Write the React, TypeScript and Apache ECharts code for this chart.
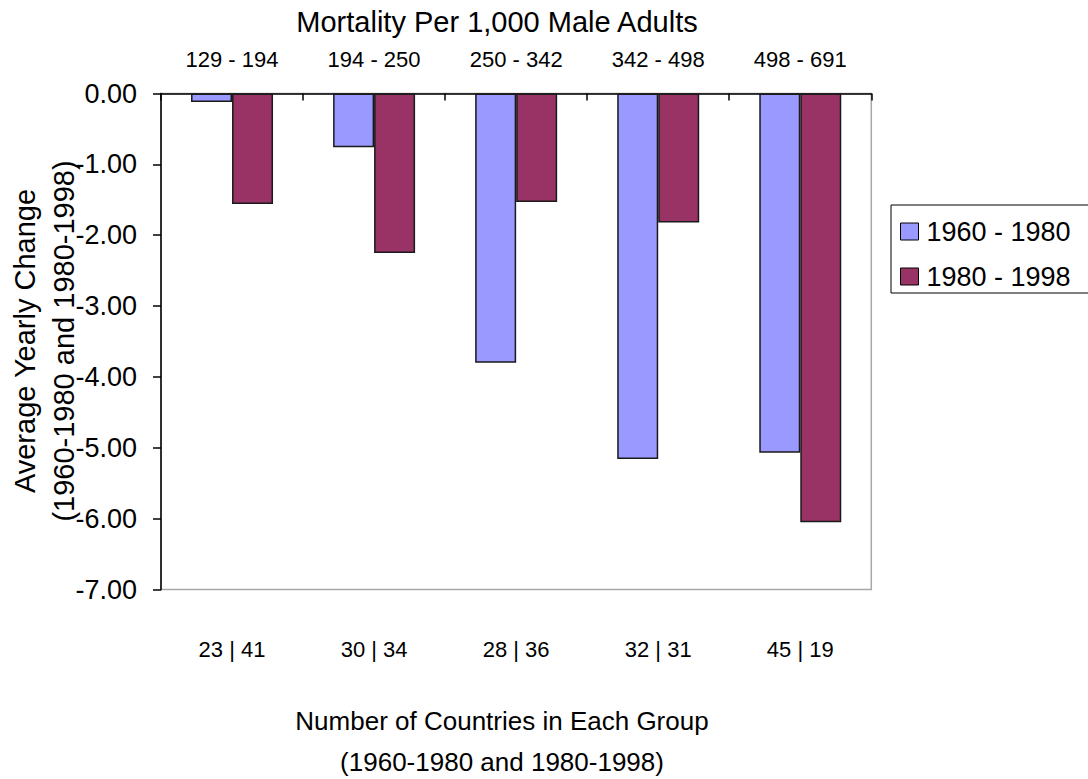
import React, { useEffect, useRef } from "react";
import * as echarts from "echarts";

const mortalityBands = ["129 - 194", "194 - 250", "250 - 342", "342 - 498", "498 - 691"];
const countryCounts = ["23 | 41", "30 | 34", "28 | 36", "32 | 31", "45 | 19"];
const series1960 = [-0.12, -0.76, -3.8, -5.16, -5.07];
const series1980 = [-1.56, -2.25, -1.53, -1.82, -6.05];
const seriesNames = ["1960 - 1980", "1980 - 1998"];
const yTicks = { min: -7, max: 0, interval: 1 };

const FONT = "'Liberation Sans', Arial, Helvetica, sans-serif";

export default function App() {
  const ref = useRef<HTMLDivElement>(null);
  useEffect(() => {
    if (!ref.current) return;
    const chart = echarts.init(ref.current, undefined, { renderer: "svg" });
    chart.setOption({
      animation: false,
      backgroundColor: "#ffffff",
      textStyle: { fontFamily: FONT, color: "#000" },
      grid: {
        left: 161,
        top: 93.5,
        right: 1088 - 871.3,
        bottom: 779 - 589.5,
        show: true,
        borderColor: "#a8a8a8",
        borderWidth: 1.5,
        backgroundColor: "transparent",
      },
      legend: {
        orient: "vertical",
        left: 891,
        top: 205,
        padding: [13, 10, 3, 9],
        itemGap: 18,
        itemWidth: 18,
        itemHeight: 17,
        icon: "rect",
        borderWidth: 0,
        data: seriesNames,
        itemStyle: { borderColor: "#000", borderWidth: 1 },
        textStyle: { fontSize: 27, color: "#000", fontFamily: FONT, padding: [0, 0, 0, 3] },
      },
      xAxis: [
        {
          type: "category",
          position: "top",
          data: mortalityBands,
          axisLine: { show: true, onZero: false, lineStyle: { color: "#000", width: 1.5 } },
          axisTick: { show: true, inside: true, length: 7, lineStyle: { color: "#000", width: 1.5 } },
          axisLabel: { fontSize: 22, color: "#000", margin: 23, fontFamily: FONT },
          splitLine: { show: false },
        },
        {
          type: "category",
          position: "bottom",
          data: countryCounts,
          axisLine: { show: false, onZero: false },
          axisTick: { show: false },
          axisLabel: { fontSize: 22, color: "#000", margin: 49, fontFamily: FONT },
          splitLine: { show: false },
        },
      ],
      yAxis: {
        type: "value",
        min: yTicks.min,
        max: yTicks.max,
        interval: yTicks.interval,
        axisLine: { show: true, onZero: false, lineStyle: { color: "#000", width: 1.5 } },
        axisTick: { show: true, inside: false, length: 8, lineStyle: { color: "#000", width: 1.5 } },
        axisLabel: {
          fontSize: 27,
          color: "#000",
          margin: 24,
          fontFamily: FONT,
          formatter: (v: number) => v.toFixed(2),
        },
        splitLine: { show: false },
      },
      series: [
        {
          name: seriesNames[0],
          type: "bar",
          xAxisIndex: 0,
          data: series1960,
          barWidth: 41,
          barGap: "0%",
          itemStyle: { color: "#9999FF", borderColor: "#1a1a1a", borderWidth: 1.5 },
        },
        {
          name: seriesNames[1],
          type: "bar",
          xAxisIndex: 0,
          data: series1980,
          barWidth: 41,
          barGap: "0%",
          itemStyle: { color: "#993366", borderColor: "#1a1a1a", borderWidth: 1.5 },
        },
      ],
      graphic: [
        {
          type: "rect",
          shape: { x: 891, y: 205, width: 230, height: 88 },
          style: { fill: "none", stroke: "#000", lineWidth: 1 },
          z: 1,
        },
        {
          type: "text",
          x: 497,
          y: 22,
          style: {
            text: "Mortality Per 1,000 Male Adults",
            fontSize: 29,
            fontFamily: FONT,
            fill: "#000",
            align: "center",
            verticalAlign: "middle",
          },
        },
        {
          type: "text",
          x: 25,
          y: 341,
          rotation: Math.PI / 2,
          style: {
            text: "Average Yearly Change",
            fontSize: 29,
            fontFamily: FONT,
            fill: "#000",
            align: "center",
            verticalAlign: "middle",
          },
        },
        {
          type: "text",
          x: 64,
          y: 341,
          rotation: Math.PI / 2,
          style: {
            text: "(1960-1980 and 1980-1998)",
            fontSize: 29,
            fontFamily: FONT,
            fill: "#000",
            align: "center",
            verticalAlign: "middle",
          },
        },
        {
          type: "text",
          x: 502,
          y: 721,
          style: {
            text: "Number of Countries in Each Group",
            fontSize: 26,
            fontFamily: FONT,
            fill: "#000",
            align: "center",
            verticalAlign: "middle",
          },
        },
        {
          type: "text",
          x: 502,
          y: 762,
          style: {
            text: "(1960-1980 and 1980-1998)",
            fontSize: 26,
            fontFamily: FONT,
            fill: "#000",
            align: "center",
            verticalAlign: "middle",
          },
        },
      ],
    });
    return () => chart.dispose();
  }, []);
  return (
    <div
      ref={ref}
      style={{ position: "absolute", left: 0, top: 0, width: 1088, height: 779, background: "#fff" }}
    />
  );
}
